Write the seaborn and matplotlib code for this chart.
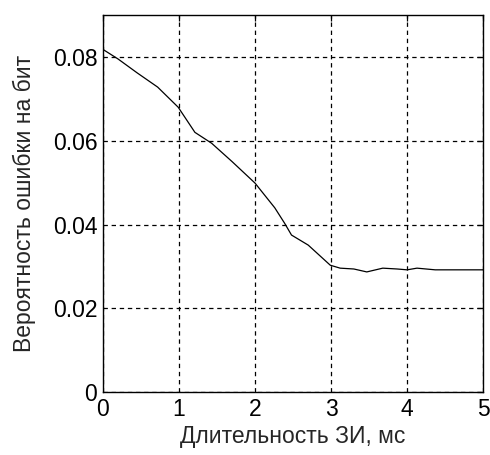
import matplotlib
matplotlib.use("Agg")
import matplotlib.pyplot as plt
import seaborn as sns
import pandas as pd

# Values
duration_ms = [0.0, 0.2, 0.45, 0.72, 0.99, 1.21, 1.43, 1.7, 2.0, 2.26, 2.39,
               2.48, 2.70, 2.99, 3.12, 3.30, 3.47, 3.68, 3.87, 4.0, 4.13,
               4.37, 5.0]
bit_error = [0.0818, 0.0795, 0.0762, 0.0728, 0.0680, 0.0620, 0.0594, 0.0550,
             0.0499, 0.0440, 0.0403, 0.0375, 0.0351, 0.0303, 0.0296, 0.0294,
             0.0287, 0.0296, 0.0294, 0.0292, 0.0296, 0.0292, 0.0292]

x_ticks = [0, 1, 2, 3, 4, 5]
y_ticks = [0, 0.02, 0.04, 0.06, 0.08]

sns.set_style("white")
plt.rcParams['font.family'] = ['Liberation Sans', 'DejaVu Sans']

df = pd.DataFrame({'x': duration_ms, 'y': bit_error})

fig = plt.figure(figsize=(4.9, 4.55), dpi=100)
ax = fig.add_axes([0.210, 0.138, 0.776, 0.829])

sns.lineplot(data=df, x='x', y='y', ax=ax, color='black', linewidth=0.9)

ax.set_xlim(0, 5)
ax.set_ylim(0, 0.09)
ax.set_xticks(x_ticks)
ax.set_xticklabels([str(t) for t in x_ticks])
ax.set_yticks(y_ticks)
ax.set_yticklabels(['0', '0.02', '0.04', '0.06', '0.08'])

ax.grid(True, color='black', linestyle=(0, (3.5, 3)), linewidth=0.9)
for s in ax.spines.values():
    s.set_color('black')
    s.set_linewidth(1.0)
ax.tick_params(direction='in', length=4, width=0.9, top=True, right=True,
               labelsize=16.5, colors='black', pad=4)

ax.set_xlabel('Длительность ЗИ, мс', fontsize=16.5, labelpad=3)
ax.set_ylabel('Вероятность ошибки на бит', fontsize=16.5, labelpad=12)

fig.savefig('out.png', dpi=100)
